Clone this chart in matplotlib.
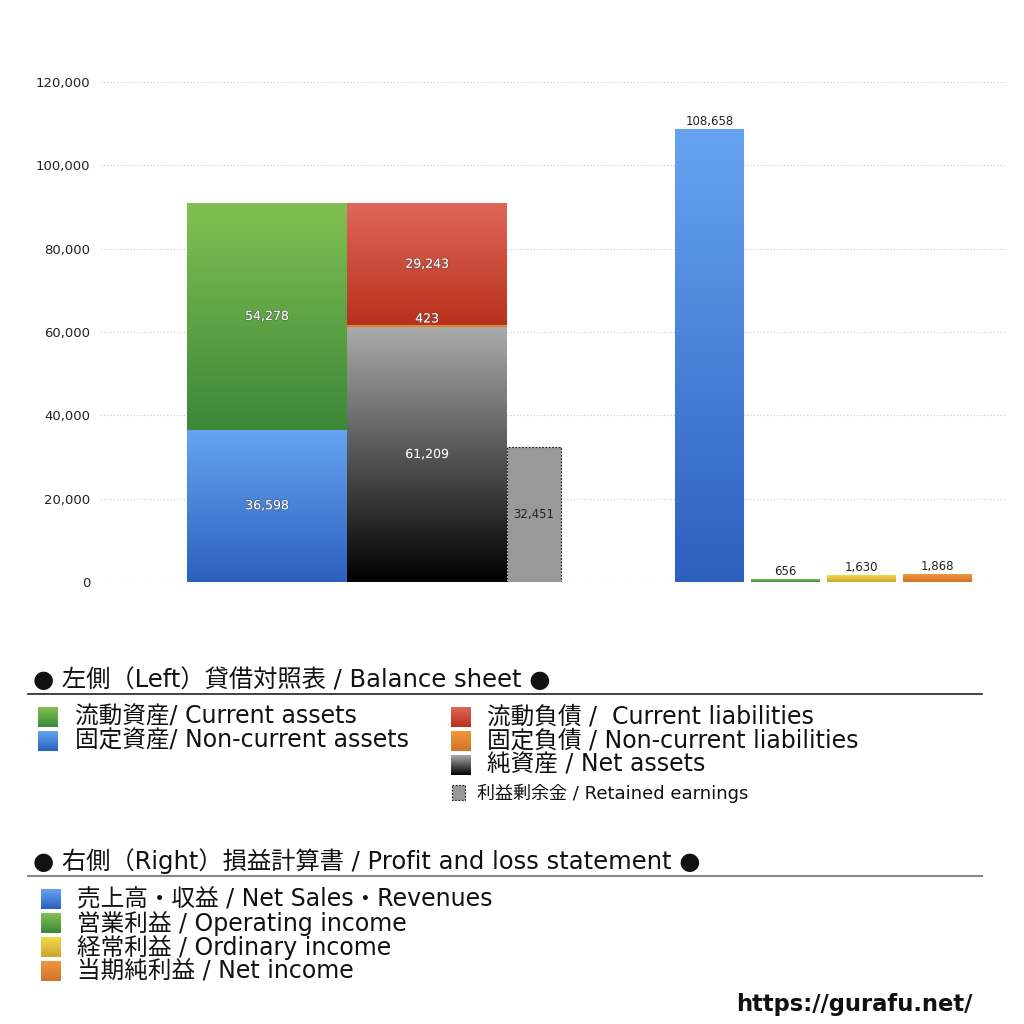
import numpy as np
import matplotlib
matplotlib.use("Agg")
import matplotlib.pyplot as plt
import matplotlib.patheffects as pe
from matplotlib.colors import LinearSegmentedColormap
from matplotlib.patches import Rectangle

plt.rcParams['font.family'] = ['DejaVu Sans', 'Noto Sans CJK JP']

# balance sheet (left side)
asset_names = ["固定資産", "流動資産"]
asset_values = [36598, 54278]
liab_names = ["純資産", "固定負債", "流動負債"]
liab_values = [61209, 423, 29243]
retained_value = 32451

# profit and loss (right side)
pl_names = ["売上高・収益", "営業利益", "経常利益", "当期純利益"]
pl_values = [108658, 656, 1630, 1868]

y_ticks = [0, 20000, 40000, 60000, 80000, 100000, 120000]

# gradient colours (top, bottom)
BLUE = ("#66a4f1", "#2b60bd")
GREEN = ("#82c053", "#3b8838")
RED = ("#de675a", "#b9311c")
ORANGE = ("#f0963e", "#d2732a")
GRAY = ("#ababab", "#000000")
YELLOW = ("#f2dc4a", "#c9a52c")


def grad_box(ax, x0, x1, y0, y1, cols, z=2):
    cmap = LinearSegmentedColormap.from_list("g", [cols[1], cols[0]])
    g = np.linspace(0, 1, 256).reshape(-1, 1)
    ax.imshow(g, extent=[x0, x1, y0, y1], origin="lower", aspect="auto",
              cmap=cmap, zorder=z, interpolation="bilinear")


fig = plt.figure(figsize=(10.24, 10.24), dpi=100)
W = H = 1024.0
ax = fig.add_axes([100 / W, 1 - 582 / H, 905 / W, 500 / H])
ax.set_xlim(100, 1005)
ax.set_ylim(0, 120000)
for s in ax.spines.values():
    s.set_visible(False)
ax.set_yticks(y_ticks)
ax.set_yticklabels([f"{v:,}" for v in y_ticks], fontsize=9.5, color="#222222")
ax.tick_params(axis="y", length=0, pad=7)
ax.set_xticks([])
for t in y_ticks:
    ax.axhline(t, color="#c8c8c8", lw=0.8, ls=(0, (1, 2)), zorder=0)

shadow = [pe.withStroke(linewidth=1.2, foreground="#555555", alpha=0.5)]

# left column: assets
asset_cols = [BLUE, GREEN]
bottom = 0
for v, c in zip(asset_values, asset_cols):
    grad_box(ax, 187, 347, bottom, bottom + v, c)
    ax.text(267, bottom + v / 2, f"{v:,}", ha="center", va="center", fontsize=9,
            color="white", path_effects=shadow, zorder=5)
    bottom += v

# middle column: liabilities + net assets
liab_cols = [GRAY, ORANGE, RED]
bottom = 0
for i, (v, c) in enumerate(zip(liab_values, liab_cols)):
    grad_box(ax, 347, 507, bottom, bottom + v, c)
    yy = bottom + v / 2 if v > 5000 else bottom + v + 1500
    ax.text(427, yy, f"{v:,}", ha="center", va="center", fontsize=9,
            color="white", path_effects=shadow, zorder=5)
    bottom += v

# retained earnings
ax.bar(534, retained_value, width=54, color="#999999", edgecolor="#111111",
       lw=0.8, ls=(0, (1.5, 1.5)), zorder=2)
ax.text(534, retained_value / 2, f"{retained_value:,}", ha="center", va="center",
        fontsize=8.5, color="#222222", zorder=5)

# right side: P/L
pl_cols = [BLUE, GREEN, YELLOW, ORANGE]
pl_x = [675, 751, 827, 903]
for x0, v, c in zip(pl_x, pl_values, pl_cols):
    grad_box(ax, x0, x0 + 69, 0, v, c)
    ax.text(x0 + 34.5, v + 250, f"{v:,}", ha="center", va="bottom", fontsize=8.5,
            color="#222222", zorder=5)

# legend area drawn in pixel coords
lg = fig.add_axes([0, 0, 1, 1], zorder=-1)
lg.set_xlim(0, W)
lg.set_ylim(H, 0)
lg.axis("off")
lg.patch.set_alpha(0)


def lg_square(x, y, cols, size=20):
    cmap = LinearSegmentedColormap.from_list("g", [cols[0], cols[1]])
    g = np.linspace(0, 1, 64).reshape(-1, 1)
    lg.imshow(g, extent=[x, x + size, y + size, y], origin="upper", aspect="auto",
              cmap=cmap, interpolation="bilinear")


fs = 17
fs_head = 17.5
lg.text(33, 680, "● 左側（Left）貸借対照表 / Balance sheet ●", fontsize=fs_head, va="center", color="#111111")
lg.plot([28, 982], [694, 694], color="#222222", lw=1.2)

lg_square(38, 707, GREEN)
lg.text(75, 717, "流動資産/ Current assets", fontsize=fs, va="center", color="#111111")
lg_square(38, 731, BLUE)
lg.text(75, 741, "固定資産/ Non-current assets", fontsize=fs, va="center", color="#111111")
lg_square(451, 707, RED)
lg.text(487, 717, "流動負債 /  Current liabilities", fontsize=fs, va="center", color="#111111")
lg_square(451, 731, ORANGE)
lg.text(487, 741, "固定負債 / Non-current liabilities", fontsize=fs, va="center", color="#111111")
lg_square(451, 755, GRAY)
lg.text(487, 765, "純資産 / Net assets", fontsize=fs, va="center", color="#111111")
lg.add_patch(Rectangle((452, 785), 13, 15, facecolor="#999999", edgecolor="#111111",
                       lw=0.8, ls=(0, (1.5, 1.5))))
lg.text(477, 793, "利益剰余金 / Retained earnings", fontsize=13, va="center", color="#111111")

lg.text(33, 861, "● 右側（Right）損益計算書 / Profit and loss statement ●", fontsize=fs_head, va="center", color="#111111")
lg.plot([28, 982], [876, 876], color="#888888", lw=1.5)

pl_legend = ["売上高・収益 / Net Sales・Revenues", "営業利益 / Operating income",
             "経常利益 / Ordinary income", "当期純利益 / Net income"]
for i, (txt, c) in enumerate(zip(pl_legend, pl_cols)):
    y = 899 + i * 24
    lg_square(41, y - 10, c)
    lg.text(77, y, txt, fontsize=fs, va="center", color="#111111")

lg.text(972, 1004, "https://gurafu.net/", fontsize=16.3, fontweight="bold",
        ha="right", va="center", color="#111111")

fig.savefig("out.png", dpi=100)
